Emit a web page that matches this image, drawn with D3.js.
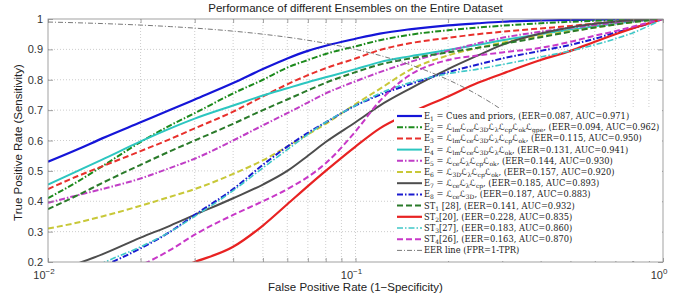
<!DOCTYPE html>
<html><head><meta charset="utf-8">
<script src="https://cdn.jsdelivr.net/npm/d3@7"></script>
<style>body{margin:0;background:#fff}svg{display:block}</style>
</head><body><svg id="c" width="690" height="300"></svg>
<script>
// ---------- data ----------
const fpr = [0.01,0.0125,0.015,0.02,0.025,0.03,0.04,0.05,0.06,0.07,0.08,0.1,0.12,0.15,0.2,0.25,0.3,0.4,0.5,0.6,0.7,0.8,1.0];
const tprE1 = [0.53,0.571,0.607,0.66,0.701,0.735,0.789,0.835,0.87,0.895,0.912,0.935,0.952,0.966,0.979,0.986,0.991,0.995,0.997,0.998,0.999,1,1];
const tprE2 = [0.41,0.465,0.515,0.595,0.65,0.69,0.755,0.80,0.84,0.865,0.885,0.91,0.93,0.948,0.963,0.972,0.978,0.986,0.991,0.994,0.996,0.998,1];
const tprE3 = [0.44,0.483,0.515,0.565,0.605,0.64,0.695,0.745,0.785,0.815,0.838,0.87,0.898,0.92,0.938,0.95,0.958,0.969,0.977,0.985,0.99,0.995,1];
const tprE4 = [0.455,0.50,0.537,0.597,0.64,0.672,0.715,0.748,0.772,0.792,0.808,0.835,0.858,0.877,0.898,0.915,0.93,0.95,0.965,0.976,0.985,0.992,1];
const tprE5 = [0.395,0.42,0.44,0.475,0.51,0.54,0.60,0.65,0.69,0.725,0.755,0.795,0.825,0.858,0.895,0.92,0.938,0.958,0.971,0.98,0.988,0.993,1];
const tprE6 = [0.31,0.33,0.35,0.385,0.415,0.44,0.49,0.535,0.58,0.62,0.655,0.72,0.77,0.832,0.88,0.905,0.922,0.945,0.96,0.972,0.982,0.99,1];
const tprE7 = [0.16,0.195,0.225,0.28,0.32,0.355,0.41,0.455,0.50,0.55,0.595,0.66,0.715,0.77,0.835,0.88,0.915,0.952,0.972,0.984,0.992,0.996,1];
const tprE8 = [0.12,0.15,0.185,0.245,0.30,0.355,0.44,0.52,0.58,0.625,0.66,0.715,0.75,0.785,0.825,0.85,0.87,0.895,0.915,0.935,0.955,0.97,1];
const tprST1 = [0.374,0.42,0.46,0.52,0.565,0.60,0.655,0.70,0.735,0.765,0.79,0.825,0.85,0.87,0.89,0.905,0.918,0.94,0.958,0.972,0.982,0.99,1];
const tprST2 = [0.08,0.10,0.12,0.145,0.17,0.2,0.25,0.32,0.39,0.45,0.50,0.58,0.64,0.69,0.745,0.79,0.82,0.865,0.895,0.925,0.95,0.97,1];
const tprST3 = [0.11,0.15,0.195,0.25,0.30,0.35,0.435,0.51,0.57,0.62,0.66,0.715,0.755,0.79,0.82,0.835,0.85,0.875,0.895,0.915,0.935,0.955,1];
const tprST4 = [0.12,0.14,0.16,0.19,0.24,0.29,0.355,0.40,0.44,0.48,0.525,0.63,0.73,0.815,0.865,0.88,0.89,0.905,0.925,0.945,0.96,0.975,1];
const tprEER = [0.99,0.9875,0.985,0.98,0.975,0.97,0.96,0.95,0.94,0.93,0.92,0.9,0.88,0.85,0.8,0.75,0.7,0.6,0.5,0.4,0.3,0.2,0];

const seriesLabels = [
  "E_{1} = Cues and priors",
  "E_{2} = ℒ_{lm}ℒ_{ce}ℒ_{3D}ℒ_{λ}ℒ_{cp}ℒ_{ok}ℒ_{gpe}",
  "E_{3} = ℒ_{lm}ℒ_{ce}ℒ_{3D}ℒ_{λ}ℒ_{cp}ℒ_{ok}",
  "E_{4} = ℒ_{lm}ℒ_{ce}ℒ_{3D}ℒ_{λ}ℒ_{ok}",
  "E_{5} = ℒ_{ce}ℒ_{λ}ℒ_{cp}ℒ_{ok}",
  "E_{6} = ℒ_{3D}ℒ_{λ}ℒ_{cp}ℒ_{ok}",
  "E_{7} = ℒ_{ce}ℒ_{λ}ℒ_{cp}",
  "E_{8} = ℒ_{ce}ℒ_{3D}",
  "ST_{1} [28]",
  "ST_{2}[20]",
  "ST_{3}[27]",
  "ST_{4}[26]"
];
const eerValues = ["0.087","0.094","0.115","0.131","0.144","0.157","0.185","0.187","0.141","0.228","0.183","0.163"];
const aucValues = ["0.971","0.962","0.950","0.941","0.930","0.920","0.893","0.883","0.932","0.835","0.860","0.870"];
const eerLabel = "EER line (FPR=1-TPR)";
const yTicks = [0.2,0.3,0.4,0.5,0.6,0.7,0.8,0.9,1];
const yTickLabels = ["0.2","0.3","0.4","0.5","0.6","0.7","0.8","0.9","1"];
const xTicks = [0.01,0.1,1];
const xTickExp = ["−2","−1","0"];
const titleText = "Performance of different Ensembles on the Entire Dataset";
const xLabel = "False Positive Rate (1−Specificity)";
const yLabel = "True Positive Rate (Sensitivity)";

// ---------- styles ----------
const tprAll = [tprE1,tprE2,tprE3,tprE4,tprE5,tprE6,tprE7,tprE8,tprST1,tprST2,tprST3,tprST4];
const colors = ["#1515d8","#1c8a1c","#e8302c","#2cc6c0","#c03ec6","#c8c838","#4d4d4d","#1a1ad0","#2a7a2a","#e82222","#40c8c8","#c838c8"];
const DASH="6,3", DD="6,2,1.5,2", SOLID=null;
const dashes = [SOLID,DD,DASH,SOLID,DD,DASH,SOLID,DD,DASH,SOLID,DD,DASH];
const widths = [2.2,2,2,2,2,2,2,2,2,2.2,1.6,2];

// ---------- layout ----------
const svg = d3.select("#c");
const L=48,R=663,T=19,B=262;
const x = d3.scaleLog().domain([0.01,1]).range([L,R]);
const y = d3.scaleLinear().domain([0.2,1]).range([B,T]);

svg.append("defs").append("clipPath").attr("id","clip")
  .append("rect").attr("x",L).attr("y",T).attr("width",R-L).attr("height",B-T);

// grid
const minor = [];
[0.01,0.1].forEach(d=>{for(let k=1;k<=9;k++)minor.push(d*k);});
minor.push(1);
const g = svg.append("g");
g.selectAll(".vx").data(minor.filter(v=>v>0.01&&v<1)).join("line")
  .attr("x1",d=>x(d)).attr("x2",d=>x(d)).attr("y1",T).attr("y2",B)
  .attr("stroke","#c0c0c0").attr("stroke-width",0.8).attr("stroke-dasharray","1,2");
g.selectAll(".hy").data(yTicks.filter(v=>v>0.2&&v<1)).join("line")
  .attr("x1",L).attr("x2",R).attr("y1",d=>y(d)).attr("y2",d=>y(d))
  .attr("stroke","#c0c0c0").attr("stroke-width",0.8).attr("stroke-dasharray","1,2");

// curves
const line = d3.line().x((d,i)=>x(fpr[i])).y(d=>y(d)).curve(d3.curveMonotoneX);
const cg = svg.append("g").attr("clip-path","url(#clip)");
tprAll.forEach((arr,i)=>{
  cg.append("path").attr("d",line(arr)).attr("fill","none")
    .attr("stroke",colors[i]).attr("stroke-width",widths[i])
    .attr("stroke-dasharray",dashes[i]);
});
cg.append("path").attr("d",line(tprEER)).attr("fill","none")
  .attr("stroke","#6a6a6a").attr("stroke-width",0.9).attr("stroke-dasharray","5,2,1,2");

// axes frame + ticks
const ax = svg.append("g");
ax.append("rect").attr("x",L).attr("y",T).attr("width",R-L).attr("height",B-T)
  .attr("fill","none").attr("stroke","#8a8a8a").attr("stroke-width",0.8);
const xAxB = d3.axisBottom(x).tickValues(minor).tickSize(-4).tickFormat("");
const xAxT = d3.axisTop(x).tickValues(minor).tickSize(-4).tickFormat("");
const yAxL = d3.axisLeft(y).tickValues(yTicks).tickSize(-5).tickFormat("");
const yAxR = d3.axisRight(y).tickValues(yTicks).tickSize(-5).tickFormat("");
[[xAxB,`translate(0,${B})`],[xAxT,`translate(0,${T})`],[yAxL,`translate(${L},0)`],[yAxR,`translate(${R},0)`]].forEach(([a,t])=>{
  const gg = ax.append("g").attr("transform",t).call(a);
  gg.select(".domain").remove();
  gg.selectAll("line").attr("stroke","#8a8a8a").attr("stroke-width",0.8);
});
// tick labels
const font = "'Liberation Sans', Arial, sans-serif";
svg.append("g").selectAll("text").data(yTicks).join("text")
  .attr("x",L-5).attr("y",d=>y(d)+4).attr("text-anchor","end")
  .attr("font-family",font).attr("font-size",11).attr("fill","#333")
  .text((d,i)=>yTickLabels[i]);
const xt = svg.append("g").selectAll("text").data(xTicks).join("text")
  .attr("x",d=>x(d)-4).attr("y",B+17).attr("text-anchor","middle")
  .attr("font-family",font).attr("font-size",11).attr("fill","#333");
xt.append("tspan").text("10");
xt.append("tspan").attr("dy",-5).attr("font-size",8).text((d,i)=>xTickExp[i]);

svg.append("text").attr("x",(L+R)/2).attr("y",12).attr("text-anchor","middle")
  .attr("font-family",font).attr("font-size",11.5).attr("fill","#222").text(titleText);
svg.append("text").attr("x",(L+R)/2).attr("y",291).attr("text-anchor","middle")
  .attr("font-family",font).attr("font-size",11.5).attr("fill","#222").text(xLabel);
svg.append("text").attr("transform",`translate(22,${(T+B)/2+2}) rotate(-90)`).attr("text-anchor","middle")
  .attr("font-family",font).attr("font-size",11.5).attr("fill","#222").text(yLabel);

// legend
const lg = svg.append("g");
const lx = 394, ly0 = 116, rowH = 11.2;
lg.append("rect").attr("x",lx).attr("y",108).attr("width",R-lx-1).attr("height",B-108-1)
  .attr("fill","#fff");
const serif = "'DejaVu Serif','Liberation Serif',serif";
function addRich(textSel, str){
  const parts = str.split(/(_\{[^}]*\}|ℒ)/);
  let shifted=false;
  parts.forEach(p=>{
    if(!p) return;
    const m = p.match(/^_\{([^}]*)\}$/);
    if(m){ textSel.append("tspan").attr("dy",2).attr("font-size",6).text(m[1]); shifted=true; return; }
    const t=textSel.append("tspan").text(p);
    if(p==="ℒ") t.attr("font-family","'DejaVu Sans',sans-serif").attr("font-style","italic").attr("font-size",8.8);
    if(shifted){t.attr("dy",-2); shifted=false;}
  });
}
const legStyles = colors.map((c,i)=>({c, d:dashes[i], w:widths[i]}));
legStyles.push({c:"#6a6a6a", d:"5,2,1,2", w:0.9});
const legTexts = seriesLabels.map((s,i)=>`${s}, (EER=${eerValues[i]}, AUC=${aucValues[i]})`);
legTexts.push(eerLabel);
legTexts.forEach((s,i)=>{
  const yy = ly0 + i*rowH;
  lg.append("line").attr("x1",lx+3).attr("x2",lx+28).attr("y1",yy).attr("y2",yy)
    .attr("stroke",legStyles[i].c).attr("stroke-width",legStyles[i].w).attr("stroke-dasharray",legStyles[i].d);
  const t = lg.append("text").attr("x",lx+30).attr("y",yy+3)
    .attr("font-family",serif).attr("font-size",8.3).attr("fill","#222");
  addRich(t, s);
});
</script></body></html>
